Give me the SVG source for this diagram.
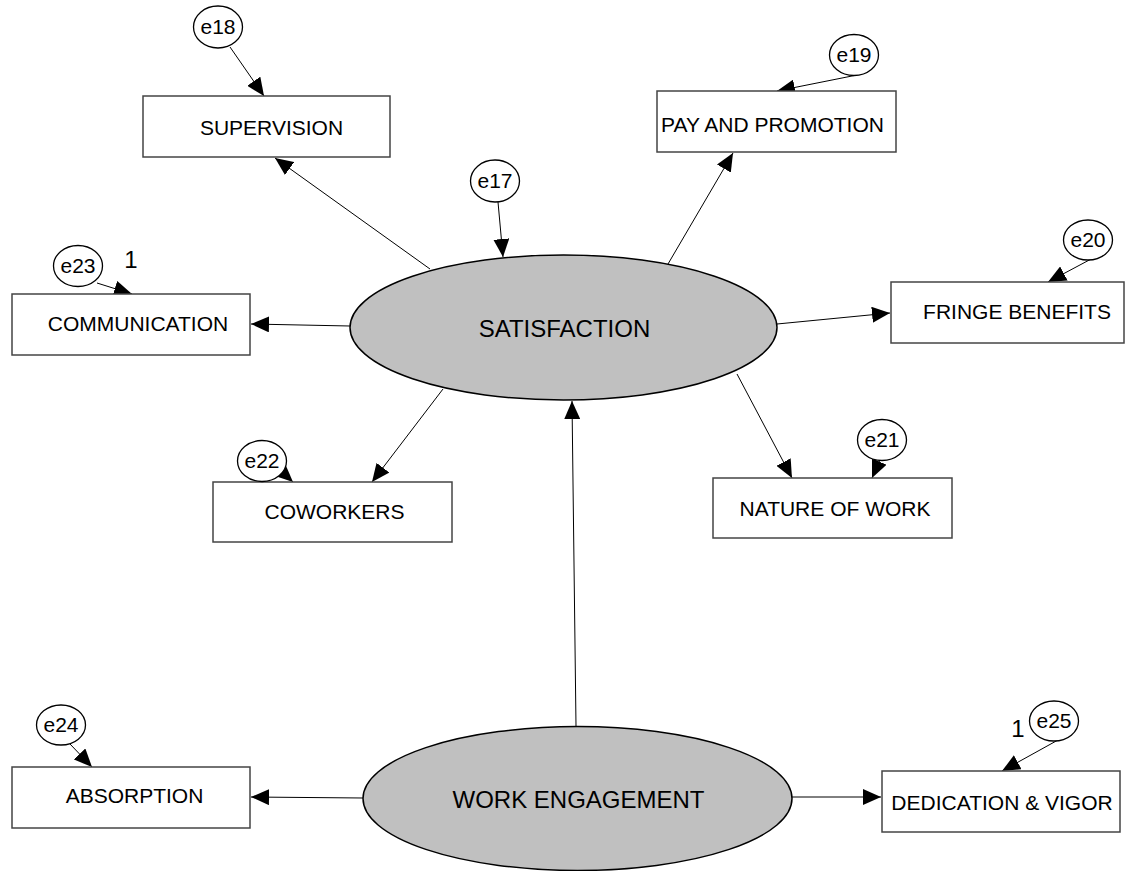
<svg xmlns="http://www.w3.org/2000/svg" width="1125" height="871" viewBox="0 0 1125 871">
  <defs>
    <marker id="arrow" markerUnits="userSpaceOnUse" markerWidth="20" markerHeight="16" refX="18" refY="8" orient="auto">
      <path d="M0,0 L18,8 L0,16 z" fill="#000"/>
    </marker>
    <style>
      .box { fill: #fff; stroke: #444; stroke-width: 1.5; }
      .latent { fill: #c0c0c0; stroke: #000; stroke-width: 1.5; }
      .err { fill: #fff; stroke: #000; stroke-width: 1.3; }
      .edge { stroke: #000; stroke-width: 1; fill: none; marker-end: url(#arrow); }
      .lbl { font-family: "Liberation Sans", Arial, sans-serif; font-size: 21px; fill: #000; text-anchor: middle; }
      .big { font-family: "Liberation Sans", Arial, sans-serif; font-size: 24px; fill: #000; text-anchor: middle; }
      .elbl { font-family: "Liberation Sans", Arial, sans-serif; font-size: 21px; fill: #000; text-anchor: middle; }
      .one { font-family: "Liberation Sans", Arial, sans-serif; font-size: 24px; fill: #000; text-anchor: middle; }
    </style>
  </defs>
  <rect width="1125" height="871" fill="#fff"/>

  <!-- paths and error terms pointing at indicators -->
  <g id="connectors">
    <line class="edge" x1="576" y1="726" x2="572" y2="401"/>
    <line class="edge" x1="430" y1="269" x2="275" y2="158"/>
    <line class="edge" x1="668" y1="264" x2="733" y2="153"/>
    <line class="edge" x1="350" y1="326" x2="251" y2="324"/>
    <line class="edge" x1="777" y1="324" x2="890" y2="313"/>
    <line class="edge" x1="443" y1="389" x2="372" y2="482"/>
    <line class="edge" x1="737" y1="374" x2="792" y2="478"/>
    <line class="edge" x1="363" y1="798" x2="251" y2="797"/>
    <line class="edge" x1="792" y1="797" x2="881" y2="797"/>
    <line class="edge" x1="230" y1="47" x2="264" y2="96"/>
    <line class="edge" x1="498" y1="202" x2="503" y2="257"/>
    <line class="edge" x1="857" y1="75" x2="777" y2="91"/>
    <line class="edge" x1="97" y1="283" x2="132" y2="294"/>
    <line class="edge" x1="280" y1="470" x2="293" y2="482"/>
    <line class="edge" x1="880" y1="460" x2="872" y2="478"/>
    <line class="edge" x1="1093" y1="258" x2="1048" y2="282"/>
    <line class="edge" x1="70" y1="744" x2="92" y2="767"/>
    <line class="edge" x1="1058" y1="740" x2="1002" y2="771"/>
  </g>

  <!-- latent variables -->
  <g id="satisfaction">
    <ellipse class="latent" cx="563.5" cy="327.5" rx="213.5" ry="72.5"/>
    <text class="big" x="564.5" y="337">SATISFACTION</text>
  </g>
  <g id="work-engagement">
    <ellipse class="latent" cx="577.5" cy="798.5" rx="214.5" ry="72"/>
    <text class="big" x="578.5" y="808">WORK ENGAGEMENT</text>
  </g>

  <!-- observed indicators -->
  <g id="supervision">
    <rect class="box" x="143" y="96" width="247" height="61"/>
    <text class="lbl" x="271.5" y="135">SUPERVISION</text>
  </g>
  <g id="pay-and-promotion">
    <rect class="box" x="657" y="91" width="239" height="61"/>
    <text class="lbl" x="772.5" y="132">PAY AND PROMOTION</text>
  </g>
  <g id="communication">
    <rect class="box" x="12" y="294" width="238" height="61"/>
    <text class="lbl" x="138" y="331">COMMUNICATION</text>
  </g>
  <g id="fringe-benefits">
    <rect class="box" x="891" y="282" width="233" height="61"/>
    <text class="lbl" x="1017" y="319">FRINGE BENEFITS</text>
  </g>
  <g id="coworkers">
    <rect class="box" x="213" y="482" width="239" height="60"/>
    <text class="lbl" x="334.5" y="519">COWORKERS</text>
  </g>
  <g id="nature-of-work">
    <rect class="box" x="713" y="478" width="239" height="60"/>
    <text class="lbl" x="835" y="516">NATURE OF WORK</text>
  </g>
  <g id="absorption">
    <rect class="box" x="12" y="767" width="238" height="61"/>
    <text class="lbl" x="134.5" y="803">ABSORPTION</text>
  </g>
  <g id="dedication-vigor">
    <rect class="box" x="882" y="771" width="238" height="61"/>
    <text class="lbl" x="1002" y="810">DEDICATION &amp; VIGOR</text>
  </g>

  <!-- error terms -->
  <g id="e18">
    <ellipse class="err" cx="218" cy="27" rx="24.5" ry="21"/>
    <text class="elbl" x="218" y="34">e18</text>
  </g>
  <g id="e17">
    <ellipse class="err" cx="495" cy="181" rx="24.5" ry="21"/>
    <text class="elbl" x="495" y="188">e17</text>
  </g>
  <g id="e19">
    <ellipse class="err" cx="854" cy="55" rx="24.5" ry="20.5"/>
    <text class="elbl" x="854" y="62">e19</text>
  </g>
  <g id="e23">
    <ellipse class="err" cx="78" cy="266" rx="24.5" ry="20.5"/>
    <text class="elbl" x="78" y="273">e23</text>
    <text class="one" x="131" y="268">1</text>
  </g>
  <g id="e20">
    <ellipse class="err" cx="1088" cy="240" rx="24.5" ry="20"/>
    <text class="elbl" x="1088" y="247">e20</text>
  </g>
  <g id="e22">
    <ellipse class="err" cx="262" cy="461" rx="24.5" ry="20.5"/>
    <text class="elbl" x="262" y="468">e22</text>
  </g>
  <g id="e21">
    <ellipse class="err" cx="882" cy="440" rx="24.5" ry="20.5"/>
    <text class="elbl" x="882" y="447">e21</text>
  </g>
  <g id="e24">
    <ellipse class="err" cx="61" cy="725" rx="24.5" ry="20"/>
    <text class="elbl" x="61" y="732">e24</text>
  </g>
  <g id="e25">
    <ellipse class="err" cx="1054" cy="721" rx="24.5" ry="20"/>
    <text class="elbl" x="1054" y="728">e25</text>
    <text class="one" x="1018" y="737">1</text>
  </g>
</svg>
